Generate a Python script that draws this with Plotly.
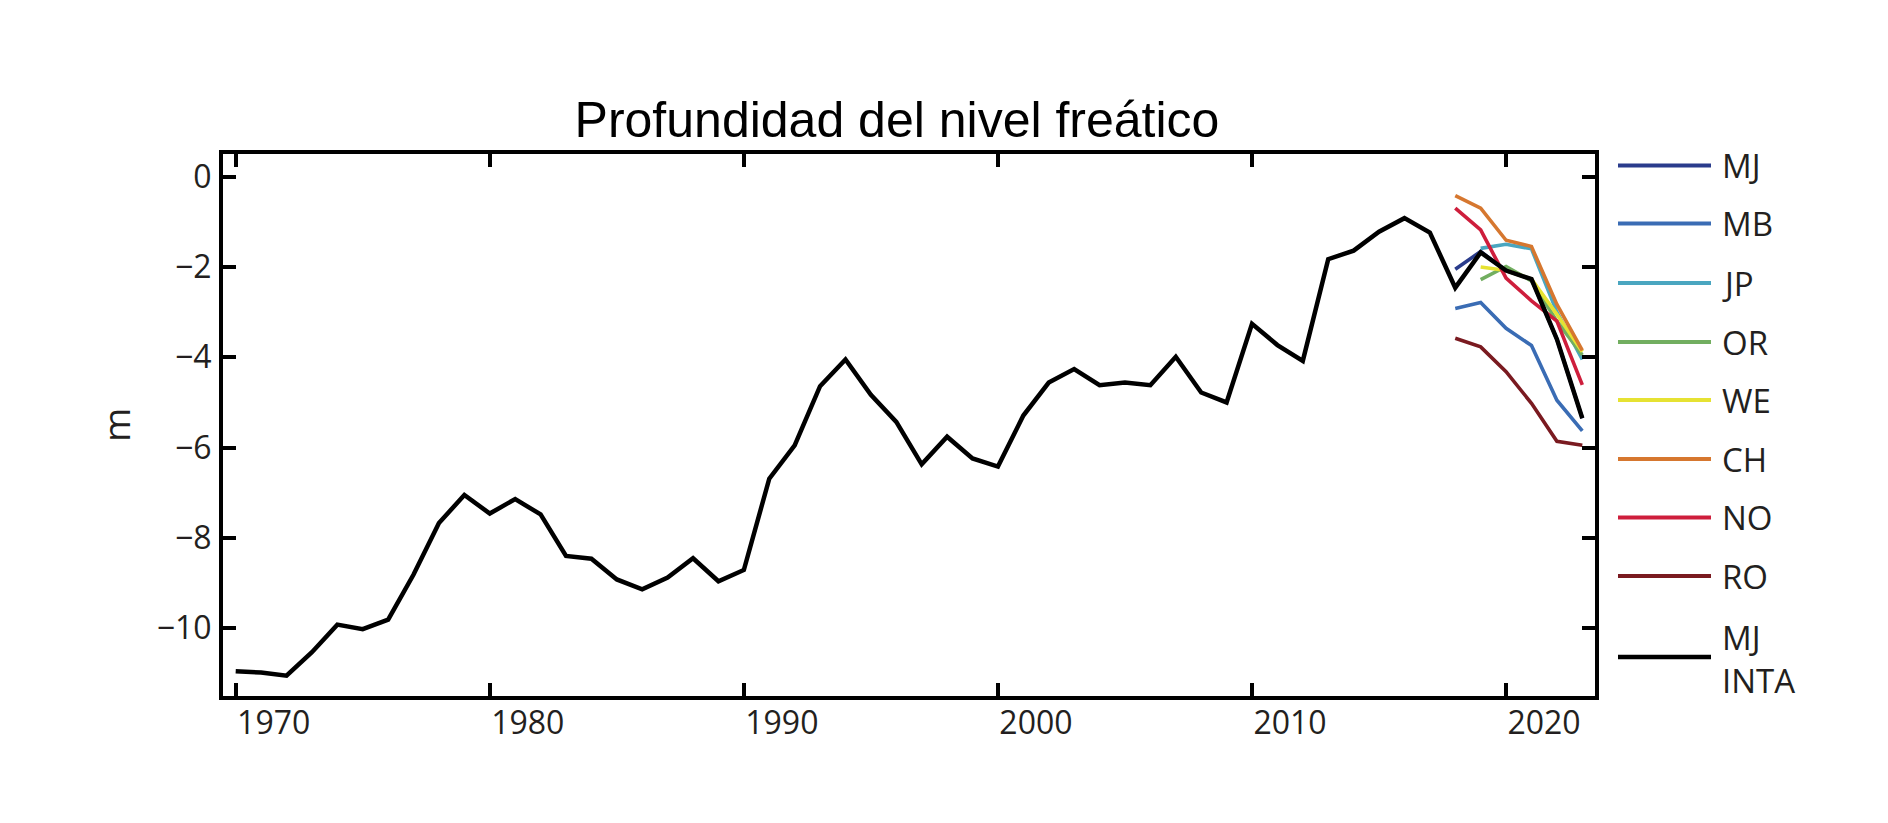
import plotly.graph_objects as go

# ---------------- data ----------------
years = list(range(1970, 2024))
mj_inta = [-10.95, -10.98, -11.05, -10.53, -9.92, -10.02, -9.81, -8.81, -7.67, -7.05,
           -7.46, -7.14, -7.48, -8.40, -8.46, -8.92, -9.14, -8.88, -8.45, -8.96,
           -8.71, -6.69, -5.95, -4.64, -4.05, -4.83, -5.43, -6.37, -5.76, -6.24,
           -6.42, -5.29, -4.56, -4.26, -4.62, -4.56, -4.62, -3.99, -4.78, -5.00,
           -3.26, -3.73, -4.08, -1.83, -1.64, -1.22, -0.92, -1.24, -2.46, -1.68,
           -2.08, -2.27, -3.60, -5.35]

years_recent = [2018, 2019, 2020, 2021, 2022, 2023]
mj = [-2.05, -1.66, -2.08, -2.27, -3.60, -5.35]
mb = [-2.92, -2.79, -3.36, -3.74, -4.95, -5.63]
jp = [None, -1.59, -1.50, -1.60, -3.00, -4.05]
or_ = [None, -2.28, -1.99, -2.31, -3.20, -3.95]
we = [None, -2.00, -2.08, -2.27, -3.05, -3.88]
ch = [-0.42, -0.70, -1.41, -1.55, -2.83, -3.85]
no = [-0.70, -1.18, -2.25, -2.75, -3.20, -4.61]
ro = [-3.58, -3.77, -4.32, -5.02, -5.86, -5.95]

series_names = ["MJ", "MB", "JP", "OR", "WE", "CH", "NO", "RO"]
series_values = [mj, mb, jp, or_, we, ch, no, ro]
series_colors = ["#2a3c8c", "#3a6cb4", "#4aa6c0", "#72ae60", "#e6e232",
                 "#d6772f", "#ce1e3c", "#7a1a20"]

x_ticks = [1970, 1980, 1990, 2000, 2010, 2020]
y_ticks = [-10, -8, -6, -4, -2, 0]
y_ticktext = ["\u221210", "\u22128", "\u22126", "\u22124", "\u22122", "0"]

title_text = "Profundidad del nivel freático"
black_name = "MJ<br>INTA"

# ---------------- layout constants (page pixels) ----------------
OFF = 8                      # default body margin of the html page
W, H = 1888 - OFF, 823 - OFF
L, R, T, B = 223, 1595, 154, 696
TICK_FONT = "Open Sans"
TXT = "#231f20"

fig = go.Figure()
for name, vals, col in zip(series_names, series_values, series_colors):
    fig.add_trace(go.Scatter(x=years_recent, y=vals, mode="lines", name=name,
                             line=dict(color=col, width=3.6), showlegend=False))
fig.add_trace(go.Scatter(x=years, y=mj_inta, mode="lines", name="MJ INTA",
                         line=dict(color="black", width=4.5), showlegend=False))

# ---------------- custom legend ----------------
def py(Y):
    return (B - Y) / (B - T)

def px(X):
    return (X - L) / (R - L)

legend_y = [165.5, 223.5, 283, 342, 400, 459, 517.5, 576]
shapes = []
annotations = []
for name, col, yy in zip(series_names, series_colors, legend_y):
    shapes.append(dict(type="line", xref="paper", yref="paper",
                       x0=px(1618), x1=px(1711), y0=py(yy), y1=py(yy),
                       line=dict(color=col, width=4)))
    annotations.append(dict(xref="paper", yref="paper", x=px(1720), y=py(yy),
                            text=name, showarrow=False, xanchor="left", yanchor="middle",
                            font=dict(family=TICK_FONT, size=33, color=TXT)))
shapes.append(dict(type="line", xref="paper", yref="paper",
                   x0=px(1618), x1=px(1711), y0=py(657), y1=py(657),
                   line=dict(color="black", width=4.6)))
annotations.append(dict(xref="paper", yref="paper", x=px(1720), y=py(659),
                        text=black_name, showarrow=False, xanchor="left", yanchor="middle",
                        align="left",
                        font=dict(family=TICK_FONT, size=33, color=TXT)))
# y-axis title
annotations.append(dict(xref="paper", yref="paper", x=px(115), y=0.5, text="m",
                        textangle=-90, showarrow=False, xanchor="center", yanchor="middle",
                        font=dict(family=TICK_FONT, size=37, color=TXT)))

fig.update_layout(
    width=W, height=H,
    margin=dict(l=L - OFF, r=W - (R - OFF), t=T - OFF, b=H - (B - OFF)),
    paper_bgcolor="white", plot_bgcolor="white",
    title=dict(text=title_text, x=(897 - OFF) / W, xref="container", xanchor="center",
               y=1 - (119 - OFF) / H, yref="container", yanchor="middle",
               font=dict(family="Liberation Sans", size=50, color="black")),
    shapes=shapes, annotations=annotations,
    showlegend=False,
)
fig.update_xaxes(range=[1969.5, 2023.5], tickvals=x_ticks, ticks="inside",
                 ticklen=13, tickwidth=4, tickcolor="black",
                 showline=True, linewidth=4, linecolor="black", mirror="ticks",
                 showgrid=False, zeroline=False, ticklabelshift=38,
                 ticklabelstandoff=-4,
                 tickfont=dict(family=TICK_FONT, size=32, color=TXT))
fig.update_yaxes(range=[-11.5, 0.5], tickvals=y_ticks, ticktext=y_ticktext,
                 ticks="inside", ticklen=13, tickwidth=4, tickcolor="black",
                 showline=True, linewidth=4, linecolor="black", mirror="ticks",
                 showgrid=False, zeroline=False, ticklabelstandoff=1,
                 tickfont=dict(family=TICK_FONT, size=32, color=TXT))

fig.write_html("out.html")
